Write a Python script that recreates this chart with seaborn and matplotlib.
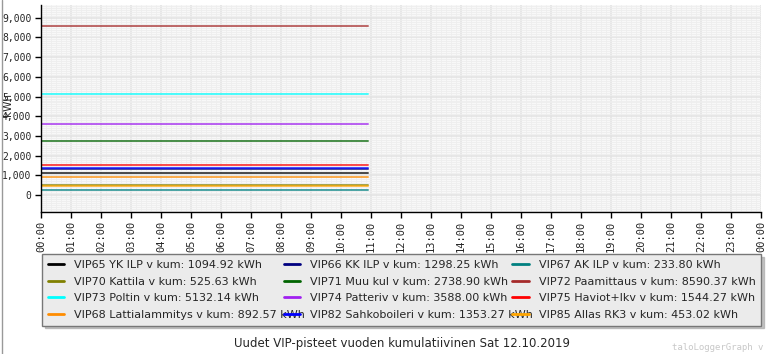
import numpy as np
import pandas as pd
import matplotlib
matplotlib.use("Agg")
import matplotlib.pyplot as plt
import seaborn as sns
from matplotlib.ticker import MultipleLocator, FuncFormatter
from matplotlib.lines import Line2D

# Data
times = [0.0, 10.9]  # hours, readings from 00:00 to about 10:54
names = ["VIP65 YK ILP", "VIP66 KK ILP", "VIP67 AK ILP",
         "VIP70 Kattila", "VIP71 Muu kul", "VIP72 Paamittaus",
         "VIP73 Poltin", "VIP74 Patteriv", "VIP75 Haviot+lkv",
         "VIP68 Lattialammitys", "VIP82 Sahkoboileri", "VIP85 Allas RK3"]
totals = [1094.92, 1298.25, 233.80,
          525.63, 2738.90, 8590.37,
          5132.14, 3588.00, 1544.27,
          892.57, 1353.27, 453.02]
colors = ["#000000", "#000080", "#008080",
          "#808000", "#006400", "#a52a2a",
          "#00ffff", "#a020f0", "#ff0000",
          "#ff8c00", "#0000ff", "#ffa500"]
hour_labels = ["%02d:00" % (h % 24) for h in range(25)]

rows = []
for n, v in zip(names, totals):
    for t in times:
        rows.append({"name": n, "hour": t, "kWh": v})
df = pd.DataFrame(rows)

sns.set_style("white")
plt.rcParams["font.family"] = ["DejaVu Sans"]

fig = plt.figure(figsize=(7.69, 3.54), dpi=100)
ax = fig.add_axes([41 / 769, 142 / 354, 720 / 769, 207 / 354])
ax.set_facecolor("#f8f8f8")

sns.lineplot(data=df, x="hour", y="kWh", hue="name", hue_order=names,
             palette=colors, linewidth=1.4, alpha=0.7, legend=False, ax=ax)

ax.set_xlim(0, 24)
ax.set_ylim(-860, 9650)
ax.xaxis.set_major_locator(MultipleLocator(1))
ax.xaxis.set_minor_locator(MultipleLocator(1 / 6))
ax.yaxis.set_major_locator(MultipleLocator(1000))
ax.yaxis.set_minor_locator(MultipleLocator(100))
ax.set_xticks(range(25))
ax.set_xticklabels(hour_labels, rotation=90, family="DejaVu Sans Mono", fontsize=7.5)
ax.yaxis.set_major_formatter(FuncFormatter(lambda v, p: "{:,.0f}".format(v)))
for lbl in ax.get_yticklabels():
    lbl.set_family("DejaVu Sans Mono")
    lbl.set_fontsize(7)

ax.grid(True, which="major", color="#e4e4e4", linewidth=1.2)
ax.grid(True, which="minor", color="#eeeeee", linewidth=0.6)
ax.set_axisbelow(True)
ax.tick_params(axis="both", which="major", direction="out", length=4, width=1,
               color="black", bottom=True, left=True, pad=2)
ax.tick_params(axis="y", which="major", pad=3)
ax.tick_params(axis="both", which="minor", length=0)
for s in ["top", "right"]:
    ax.spines[s].set_visible(False)
for s in ["left", "bottom"]:
    ax.spines[s].set_color("black")
    ax.spines[s].set_linewidth(1)

ax.set_xlabel("")
ax.set_ylabel("")
fig.text(8 / 769, 1 - 105 / 354, "kWh", rotation=90, fontsize=7.5,
         ha="center", va="center")

# legend, laid out column by column like the reference rows
order = [0, 3, 6, 9, 1, 4, 7, 10, 2, 5, 8, 11]
handles = [Line2D([], [], color=colors[i], linewidth=2) for i in order]
labels = ["%s v kum: %.2f kWh" % (names[i], totals[i]) for i in order]
leg = fig.legend(handles, labels, ncol=3, loc="center",
                 bbox_to_anchor=(42 / 769, 27 / 354, 719 / 769, 74 / 354),
                 mode="expand", fontsize=8, frameon=True, fancybox=False,
                 shadow={"color": "#aaaaaa", "alpha": 0.7},
                 facecolor="#ebebeb", edgecolor="#777777", framealpha=1,
                 handlelength=1.5, handletextpad=0.9, labelspacing=0.6,
                 borderpad=0.5, columnspacing=0.5, borderaxespad=0)

fig.text(402 / 769, 1 - 343 / 354, "Uudet VIP-pisteet vuoden kumulatiivinen Sat 12.10.2019",
         ha="center", va="center", fontsize=8.5)
fig.text(672 / 769, 1 - 347 / 354, "taloLoggerGraph v", ha="left", va="center",
         fontsize=6.5, family="DejaVu Sans Mono", color="#c8c8c8")
fig.add_artist(Line2D([1.5 / 769, 1.5 / 769], [0, 1], color="#999999", linewidth=1))

fig.savefig("out.png", dpi=100)
